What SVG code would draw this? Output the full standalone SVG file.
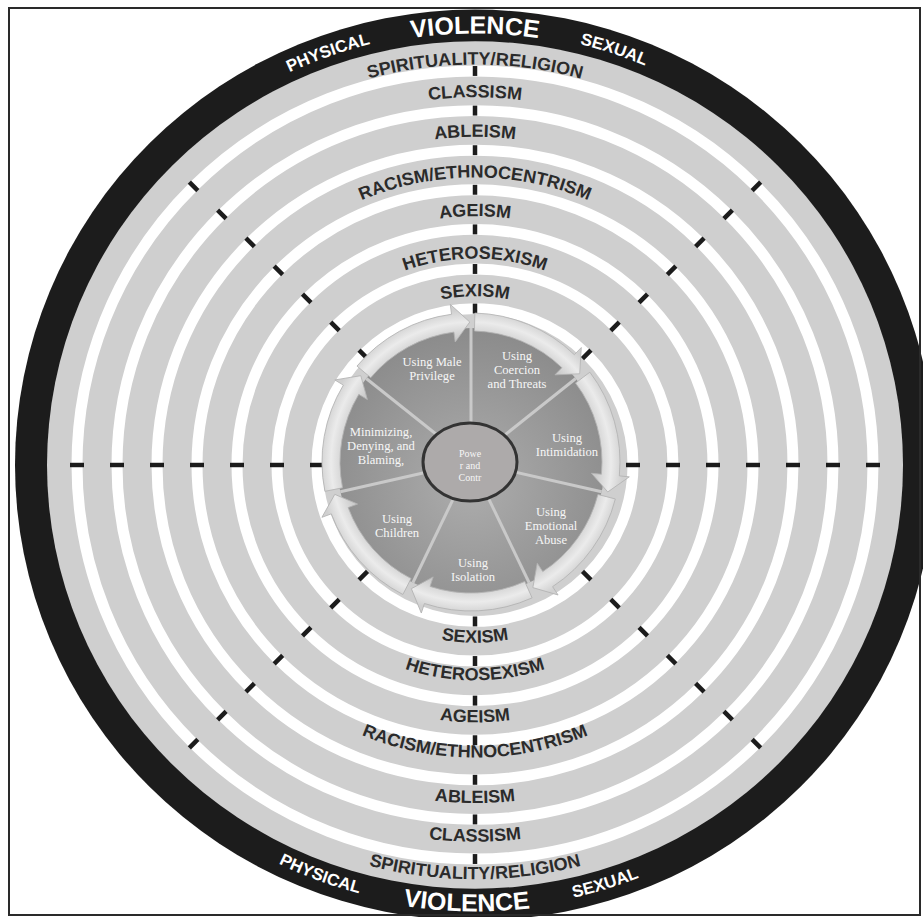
<svg xmlns="http://www.w3.org/2000/svg" xmlns:xlink="http://www.w3.org/1999/xlink" width="923" height="917" viewBox="0 0 923 917">
<style>
.band{fill:none;stroke:#ffffff;stroke-width:11}
.tick{stroke:#1c1c1c;stroke-width:4.5}
.lbl{font-family:"Liberation Sans",Arial,sans-serif;font-weight:bold;font-size:18px;fill:#2b2b2b}
.blk{font-family:"Liberation Sans",Arial,sans-serif;font-weight:bold;font-size:17px;fill:#ffffff}
.vio{font-family:"Liberation Sans",Arial,sans-serif;font-weight:bold;font-size:25px;fill:#ffffff}
.seg{font-family:"Liberation Serif","Times New Roman",serif;font-size:12.6px;fill:#f6f6f6;text-anchor:middle}
.ctr{font-family:"Liberation Serif","Times New Roman",serif;font-size:10px;fill:#f6f6f6;text-anchor:middle}
.div{stroke:#c9c9c9;stroke-width:3}
.arr{fill:url(#arrGrad);stroke:#b3b3b3;stroke-width:0.8}
</style>
<defs>
<radialGradient id="diskGrad" cx="50%" cy="58%" r="58%">
<stop offset="0" stop-color="#adadad"/>
<stop offset="1" stop-color="#8b8b8b"/>
</radialGradient>
<radialGradient id="arrGrad" gradientUnits="userSpaceOnUse" cx="0" cy="0" r="160">
<stop offset="0.78" stop-color="#cbcbcb"/>
<stop offset="0.875" stop-color="#ebebeb"/>
<stop offset="0.95" stop-color="#d0d0d0"/>
</radialGradient>
<path id="arrow" d="M148.95,3.9 A149,149 0 0 1 107.31,103.37 L114.5,110.3 L88.24,108.69 L87.14,83.95 L94.35,90.9 A131,131 0 0 0 130.96,3.43 Z"/>
<g id="tickH">
<line x1="151" y1="0" x2="165" y2="0"/><line x1="191" y1="0" x2="205" y2="0"/><line x1="231" y1="0" x2="245" y2="0"/><line x1="271" y1="0" x2="285" y2="0"/><line x1="311" y1="0" x2="325" y2="0"/><line x1="351" y1="0" x2="365" y2="0"/><line x1="391" y1="0" x2="405" y2="0"/>
</g>
<g id="tickV">
<line x1="153" y1="0" x2="163" y2="0"/><line x1="193" y1="0" x2="203" y2="0"/><line x1="233" y1="0" x2="243" y2="0"/><line x1="273" y1="0" x2="283" y2="0"/><line x1="313" y1="0" x2="323" y2="0"/><line x1="353" y1="0" x2="363" y2="0"/><line x1="393" y1="0" x2="403" y2="0"/>
</g>
<g id="tickD">
<line x1="152" y1="0" x2="164" y2="0"/><line x1="192" y1="0" x2="204" y2="0"/><line x1="232" y1="0" x2="244" y2="0"/><line x1="272" y1="0" x2="284" y2="0"/><line x1="312" y1="0" x2="324" y2="0"/><line x1="352" y1="0" x2="364" y2="0"/><line x1="392" y1="0" x2="404" y2="0"/>
</g>
<path id="t435" d="M-436,0 A436,436 0 0 1 436,0"/>
<path id="t438" d="M-438,0 A438,438 0 0 1 438,0"/>
<path id="t404" d="M-404.5,0 A404.5,404.5 0 0 1 404.5,0"/>
<path id="t371" d="M-371.5,0 A371.5,371.5 0 0 1 371.5,0"/>
<path id="t331" d="M-331.5,0 A331.5,331.5 0 0 1 331.5,0"/>
<path id="t290" d="M-290.5,0 A290.5,290.5 0 0 1 290.5,0"/>
<path id="t251" d="M-251.5,0 A251.5,251.5 0 0 1 251.5,0"/>
<path id="t208" d="M-208.5,0 A208.5,208.5 0 0 1 208.5,0"/>
<path id="t170" d="M-170.5,0 A170.5,170.5 0 0 1 170.5,0"/>
<path id="b451" d="M-451,0 A451,451 0 0 0 451,0"/>
<path id="b448" d="M-448,0 A448,448 0 0 0 448,0"/>
<path id="b418" d="M-418.5,0 A418.5,418.5 0 0 0 418.5,0"/>
<path id="b380" d="M-380.5,0 A380.5,380.5 0 0 0 380.5,0"/>
<path id="b341" d="M-341.5,0 A341.5,341.5 0 0 0 341.5,0"/>
<path id="b295" d="M-295.5,0 A295.5,295.5 0 0 0 295.5,0"/>
<path id="b260" d="M-260,0 A260,260 0 0 0 260,0"/>
<path id="b217" d="M-217.5,0 A217.5,217.5 0 0 0 217.5,0"/>
<path id="b179" d="M-179.5,0 A179.5,179.5 0 0 0 179.5,0"/>
</defs>
<rect x="0" y="0" width="923" height="917" fill="#ffffff"/>
<g id="rings" transform="translate(475 465) scale(1 0.99)">
<circle r="460" fill="#1c1c1c"/>
<circle r="428" fill="#cfcfcf"/>
<circle class="band" r="158"/><circle class="band" r="198"/><circle class="band" r="238"/><circle class="band" r="278"/><circle class="band" r="318"/><circle class="band" r="358"/><circle class="band" r="398"/>
<g id="ticks" class="tick">
<use href="#tickH"/><use href="#tickH" transform="rotate(180)"/>
<use href="#tickV" transform="rotate(90)"/><use href="#tickV" transform="rotate(-90)"/>
<use href="#tickD" transform="rotate(45)"/><use href="#tickD" transform="rotate(135)"/><use href="#tickD" transform="rotate(-45)"/><use href="#tickD" transform="rotate(-135)"/>
</g>
<g id="violence-labels">
<text class="vio" text-anchor="middle"><textPath href="#t435" startOffset="50%">VIOLENCE</textPath></text>
<text class="blk" text-anchor="middle"><textPath href="#t438" startOffset="39.2%">PHYSICAL</textPath></text>
<text class="blk" text-anchor="middle"><textPath href="#t438" startOffset="60.2%">SEXUAL</textPath></text>
<text class="vio" text-anchor="middle"><textPath href="#b451" startOffset="49.4%">VIOLENCE</textPath></text>
<text class="blk" text-anchor="middle"><textPath href="#b448" startOffset="38.6%">PHYSICAL</textPath></text>
<text class="blk" text-anchor="middle"><textPath href="#b448" startOffset="59.5%">SEXUAL</textPath></text>
</g>
<g id="top-labels" class="lbl" text-anchor="middle">
<text><textPath href="#t404" startOffset="50%">SPIRITUALITY/RELIGION</textPath></text>
<text><textPath href="#t371" startOffset="50%">CLASSISM</textPath></text>
<text><textPath href="#t331" startOffset="50%">ABLEISM</textPath></text>
<text><textPath href="#t290" startOffset="50%">RACISM/ETHNOCENTRISM</textPath></text>
<text><textPath href="#t251" startOffset="50%">AGEISM</textPath></text>
<text><textPath href="#t208" startOffset="50%">HETEROSEXISM</textPath></text>
<text><textPath href="#t170" startOffset="50%">SEXISM</textPath></text>
</g>
<g id="bottom-labels" class="lbl" text-anchor="middle">
<text><textPath href="#b418" startOffset="50%">SPIRITUALITY/RELIGION</textPath></text>
<text><textPath href="#b380" startOffset="50%">CLASSISM</textPath></text>
<text><textPath href="#b341" startOffset="50%">ABLEISM</textPath></text>
<text><textPath href="#b295" startOffset="50%">RACISM/ETHNOCENTRISM</textPath></text>
<text><textPath href="#b260" startOffset="50%">AGEISM</textPath></text>
<text><textPath href="#b217" startOffset="50%">HETEROSEXISM</textPath></text>
<text><textPath href="#b179" startOffset="50%">SEXISM</textPath></text>
</g>
</g>
<rect x="9" y="8" width="911" height="907" fill="none" stroke="#2a2a2a" stroke-width="2"/>
<g id="wheel">
<circle cx="471" cy="462" r="134" fill="url(#diskGrad)"/>
<g id="dividers" class="div" transform="translate(471 462)">
<line x1="30" y1="0" x2="134" y2="0" transform="rotate(-90)"/>
<line x1="30" y1="0" x2="134" y2="0" transform="rotate(-38.571)"/>
<line x1="30" y1="0" x2="134" y2="0" transform="rotate(12.857)"/>
<line x1="30" y1="0" x2="134" y2="0" transform="rotate(64.286)"/>
<line x1="30" y1="0" x2="134" y2="0" transform="rotate(115.714)"/>
<line x1="30" y1="0" x2="134" y2="0" transform="rotate(167.143)"/>
<line x1="30" y1="0" x2="134" y2="0" transform="rotate(218.571)"/>
</g>
<g id="connectors" class="arr" transform="translate(471 462)">
<use href="#arrow" transform="rotate(-90)"/>
<use href="#arrow" transform="rotate(-38.571)"/>
<use href="#arrow" transform="rotate(12.857)"/>
<use href="#arrow" transform="rotate(64.286)"/>
<use href="#arrow" transform="rotate(115.714)"/>
<use href="#arrow" transform="rotate(167.143)"/>
<use href="#arrow" transform="rotate(218.571)"/>
</g>
<g id="seg-coercion" class="seg"><text x="517" y="360">Using</text><text x="517" y="374">Coercion</text><text x="517" y="388">and Threats</text></g>
<g id="seg-intimidation" class="seg"><text x="567" y="442">Using</text><text x="567" y="456">Intimidation</text></g>
<g id="seg-emotional" class="seg"><text x="551" y="516">Using</text><text x="551" y="530">Emotional</text><text x="551" y="544">Abuse</text></g>
<g id="seg-isolation" class="seg"><text x="473" y="567">Using</text><text x="473" y="581">Isolation</text></g>
<g id="seg-children" class="seg"><text x="397" y="523">Using</text><text x="397" y="537">Children</text></g>
<g id="seg-minimizing" class="seg"><text x="381" y="436">Minimizing,</text><text x="381" y="450">Denying, and</text><text x="381" y="464">Blaming,</text></g>
<g id="seg-privilege" class="seg"><text x="432" y="366">Using Male</text><text x="432" y="380">Privilege</text></g>
<g id="center">
<ellipse cx="470" cy="462" rx="47" ry="39" fill="#adaaaa" stroke="#333333" stroke-width="3"/>
<text class="ctr" x="470" y="456.5">Powe</text><text class="ctr" x="470" y="468.5">r and</text><text class="ctr" x="470" y="480.5">Contr</text>
</g>
</g>
</svg>
